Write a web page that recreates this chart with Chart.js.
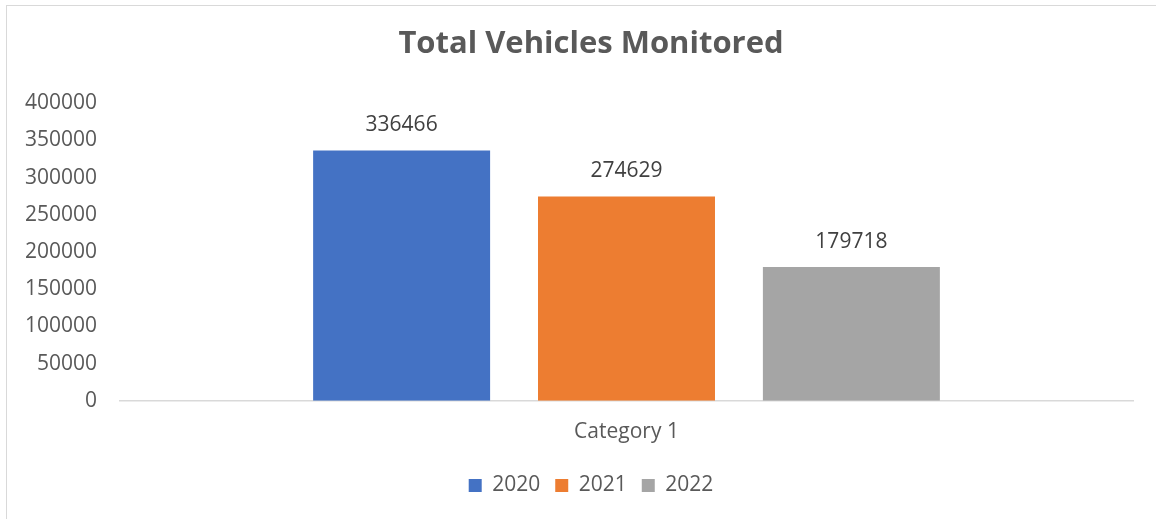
<!DOCTYPE html>
<html>
<head>
<meta charset="utf-8">
<script src="https://cdn.jsdelivr.net/npm/chart.js@4/dist/chart.umd.min.js"></script>
<style>
  body { margin: 0; overflow: hidden; background: #fff; }
  #box {
    position: absolute; left: 6px; top: 5px;
    width: 1168px; height: 520px;
    border-top: 1px solid #d9d9d9; border-left: 1px solid #d9d9d9;
  }
</style>
</head>
<body>
<div id="box"><canvas id="chart" width="1168" height="513"></canvas></div>
<script>
//-----------------------------------------------------------------------------
// Data
//-----------------------------------------------------------------------------

var categories = ["Category 1"];
var seriesNames = ["2020", "2021", "2022"];
var seriesValues = [[336466], [274629], [179718]];
var seriesColors = ["#4472C4", "#ED7D31", "#A5A5A5"];
var yTicks = [0, 50000, 100000, 150000, 200000, 250000, 300000, 350000, 400000];

var FONT = "'Open Sans', sans-serif";

//-----------------------------------------------------------------------------
// Value labels above the bars
//-----------------------------------------------------------------------------

var barLabels = {
  id: 'barLabels',
  afterDatasetsDraw: function(chart) {
    var ctx = chart.ctx;
    ctx.save();
    ctx.font = "21px " + FONT;
    ctx.fillStyle = "#404040";
    ctx.textAlign = "center";
    ctx.textBaseline = "middle";
    chart.data.datasets.forEach(function(ds, i) {
      chart.getDatasetMeta(i).data.forEach(function(bar, j) {
        ctx.fillText(String(ds.data[j]), bar.x, bar.y - 25);
      });
    });
    ctx.restore();
  }
};

//-----------------------------------------------------------------------------
// Chart
//-----------------------------------------------------------------------------

var datasets = seriesNames.map(function(name, i) {
  return {
    label: name,
    data: seriesValues[i],
    backgroundColor: seriesColors[i],
    borderWidth: 0,
    categoryPercentage: 0.666,
    barPercentage: 0.787
  };
});

new Chart(document.getElementById('chart'), {
  type: 'bar',
  data: { labels: categories, datasets: datasets },
  plugins: [barLabels],
  options: {
    responsive: false,
    animation: false,
    layout: { padding: { top: 0, right: 0, bottom: 13, left: 0 } },
    plugins: {
      tooltip: { enabled: false },
      title: {
        display: true,
        text: "Total Vehicles Monitored",
        color: "#595959",
        font: { family: FONT, size: 31, weight: 'bold' },
        padding: { top: 20, bottom: 40 }
      },
      legend: {
        position: 'bottom',
        labels: {
          color: "#595959",
          font: { family: FONT, size: 21 },
          boxWidth: 13,
          boxHeight: 13,
          padding: 15
        }
      }
    },
    scales: {
      x: {
        grid: { display: false, drawTicks: false },
        border: { display: true, color: "#d9d9d9", width: 1.5 },
        afterFit: function(scale) { scale.height -= 4; },
        ticks: { color: "#595959", font: { family: FONT, size: 21 }, padding: 19 }
      },
      y: {
        min: 0,
        max: 400000,
        afterFit: function(scale) { scale.width = 113; },
        afterBuildTicks: function(scale) {
          scale.ticks = yTicks.map(function(v) { return { value: v }; });
        },
        grid: { display: false, drawTicks: false },
        border: { display: false },
        ticks: {
          color: "#595959",
          font: { family: FONT, size: 21 },
          padding: 23,
          callback: function(v) { return String(v); }
        }
      },
      // empty right-hand margin so the title and legend stay centred on the whole chart
      pad: {
        position: 'right',
        afterFit: function(scale) { scale.width = 42; },
        grid: { display: false, drawTicks: false },
        border: { display: false },
        ticks: { display: false }
      }
    }
  }
});
</script>
</body>
</html>
